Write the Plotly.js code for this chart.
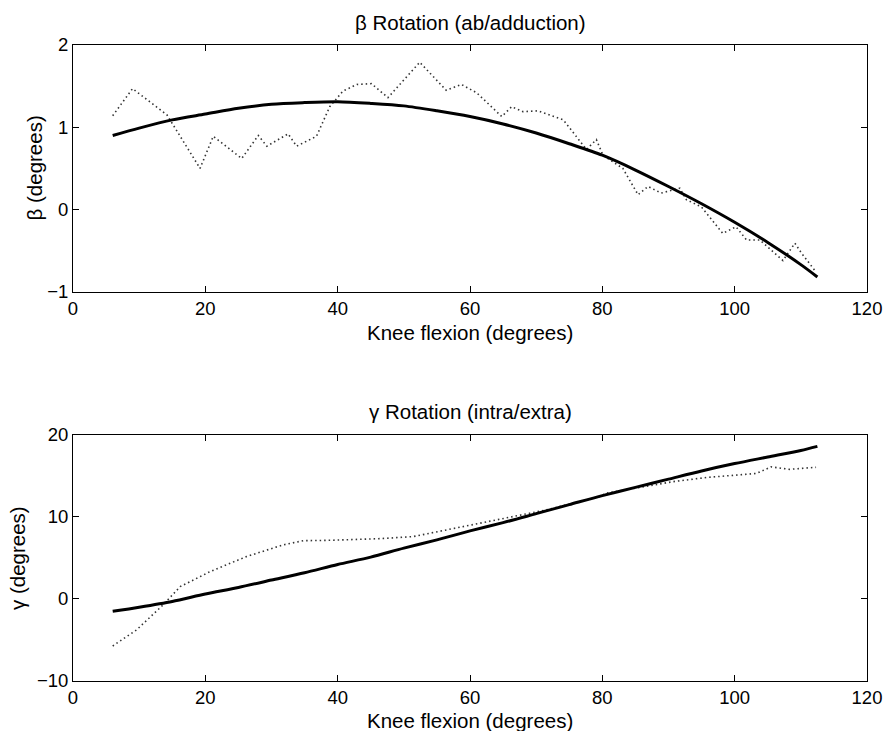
<!DOCTYPE html>
<html>
<head>
<meta charset="utf-8">
<script src="https://cdn.plot.ly/plotly-3.0.1.min.js"></script>
<style>html,body{margin:0;padding:0;background:#fff;}#chart{width:890px;height:731px;}</style>
</head>
<body>
<div id="chart"></div>
<script>
// Beta (ab/adduction) - fitted curve
const betaFitX = [6, 10, 15, 20, 25, 30, 35, 40, 45, 50, 55, 60, 65, 70, 75, 80, 85, 90, 95, 100, 105, 110, 112.5];
const betaFitY = [0.90, 0.99, 1.09, 1.16, 1.23, 1.28, 1.30, 1.31, 1.29, 1.26, 1.20, 1.13, 1.04, 0.93, 0.80, 0.66, 0.48, 0.28, 0.07, -0.155, -0.40, -0.67, -0.82];
// Beta measured (dotted)
const betaMeasX = [6.0, 9.0, 14.2, 19.2, 21.2, 25.5, 28.0, 29.3, 32.5, 33.8, 36.8, 38.8, 40.8, 42.9, 45.1, 47.6, 52.4, 56.4, 58.7, 61.0, 64.8, 66.3, 68.0, 70.3, 74.1, 77.6, 79.1, 80.1, 83.1, 85.4, 86.9, 88.9, 91.7, 92.7, 95.0, 98.2, 100.2, 101.8, 103.8, 107.3, 109.1, 110.1, 112.3];
const betaMeasY = [1.14, 1.47, 1.15, 0.50, 0.89, 0.62, 0.90, 0.77, 0.92, 0.77, 0.89, 1.25, 1.44, 1.52, 1.53, 1.36, 1.79, 1.45, 1.52, 1.42, 1.13, 1.25, 1.19, 1.20, 1.09, 0.73, 0.85, 0.66, 0.50, 0.18, 0.28, 0.20, 0.26, 0.12, 0.03, -0.29, -0.21, -0.37, -0.37, -0.62, -0.41, -0.53, -0.76];
// Gamma (intra/extra) - fitted curve
const gammaFitX = [6, 10, 15, 20, 25, 30, 35, 40, 45, 50, 55, 60, 65, 70, 75, 80, 85, 90, 95, 100, 105, 110, 112.5];
const gammaFitY = [-1.5, -1.0, -0.3, 0.6, 1.4, 2.3, 3.2, 4.2, 5.1, 6.2, 7.2, 8.3, 9.3, 10.4, 11.5, 12.6, 13.6, 14.6, 15.6, 16.5, 17.3, 18.1, 18.6];
// Gamma measured (dotted)
const gammaMeasX = [6.0, 9.6, 13.6, 16.2, 20.7, 26.2, 31.8, 34.8, 38.8, 46.4, 51.4, 56.4, 64.0, 71.5, 79.6, 80.6, 90.7, 95.7, 103.3, 105.5, 108.3, 112.3];
const gammaMeasY = [-5.73, -3.78, -0.73, 1.5, 3.33, 5.16, 6.6, 7.1, 7.15, 7.35, 7.6, 8.41, 9.63, 10.85, 12.48, 12.9, 14.3, 14.8, 15.3, 16.1, 15.8, 16.05];

const xTicks = [0, 20, 40, 60, 80, 100, 120];
const betaTicks = [-1, 0, 1, 2];
const gammaTicks = [-10, 0, 10, 20];

const FONT = 'Liberation Sans, Arial, Helvetica, sans-serif';
const dotted = {color: '#333', width: 1.6, dash: '1.5px,3px'};
const solid = {color: '#000', width: 3, shape: 'spline', smoothing: 0.8};

const traces = [
  {x: betaMeasX, y: betaMeasY, xaxis: 'x', yaxis: 'y', mode: 'lines', line: dotted, hoverinfo: 'skip'},
  {x: betaFitX, y: betaFitY, xaxis: 'x', yaxis: 'y', mode: 'lines', line: solid},
  {x: gammaMeasX, y: gammaMeasY, xaxis: 'x2', yaxis: 'y2', mode: 'lines', line: dotted, hoverinfo: 'skip'},
  {x: gammaFitX, y: gammaFitY, xaxis: 'x2', yaxis: 'y2', mode: 'lines', line: solid}
];

function xa(anchor) {
  return {domain: [0, 1], anchor: anchor, range: [0, 120], tickvals: xTicks, ticks: 'inside', ticklen: 6,
    tickcolor: '#000', showline: true, linecolor: '#000', linewidth: 1, mirror: 'ticks', showgrid: false,
    zeroline: false, tickfont: {size: 18.5, family: FONT, color: '#000'}};
}
function ya(domain, range, ticks, anchor) {
  return {domain: domain, anchor: anchor, range: range, tickvals: ticks, ticks: 'inside', ticklen: 6,
    tickcolor: '#000', showline: true, linecolor: '#000', linewidth: 1, mirror: 'ticks', showgrid: false,
    zeroline: false, tickfont: {size: 18.5, family: FONT, color: '#000'}};
}

const ann = (text, x, y, rot) => ({text: text, xref: 'paper', yref: 'paper', x: x, y: y, showarrow: false,
  xanchor: 'center', yanchor: 'middle', textangle: rot || 0, font: {size: 20.5, family: FONT, color: '#000'}});

const layout = {
  width: 890, height: 731,
  margin: {l: 73, r: 23, t: 45, b: 50},
  paper_bgcolor: '#fff', plot_bgcolor: '#fff',
  showlegend: false,
  xaxis: xa('y'),
  yaxis: ya([0.612, 1], [-1, 2], betaTicks, 'x'),
  xaxis2: xa('y2'),
  yaxis2: ya([0, 0.387], [-10, 20], gammaTicks, 'x2'),
  annotations: [
    ann('β Rotation (ab/adduction)', 0.5, 1.036),
    ann('Knee flexion (degrees)', 0.5, 0.548),
    ann('β (degrees)', -0.049, 0.806, -90),
    ann('γ Rotation (intra/extra)', 0.5, 0.423),
    ann('Knee flexion (degrees)', 0.5, -0.062),
    ann('γ (degrees)', -0.070, 0.194, -90)
  ]
};

Plotly.newPlot('chart', traces, layout, {displayModeBar: false, staticPlot: true});
</script>
</body>
</html>
